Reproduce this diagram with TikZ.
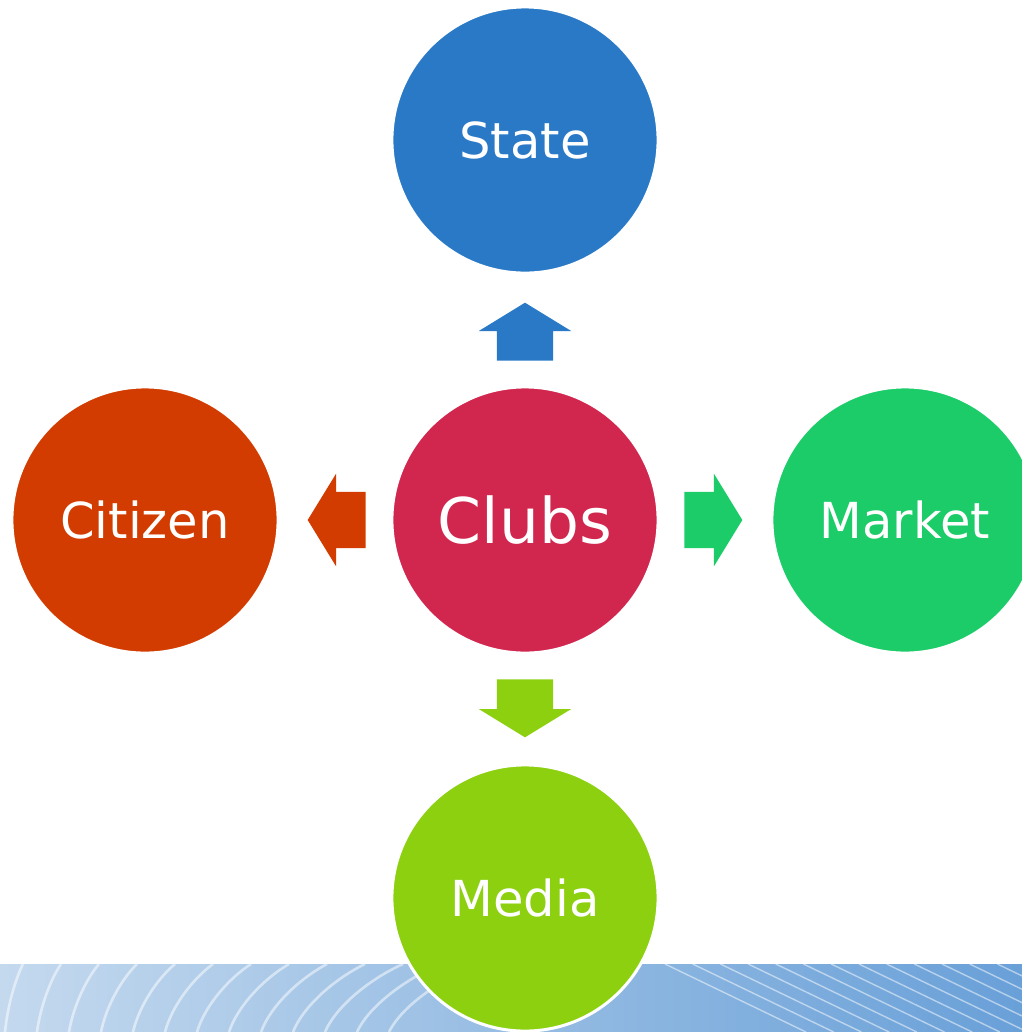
\documentclass[tikz,border=0pt]{standalone}
\usepackage{fontspec}
\setmainfont{DejaVu Sans}
\usepackage{tikz}
\usetikzlibrary{shapes.arrows,calc}
\usepackage{xcolor}
\definecolor{stateblue}{HTML}{2979C7}
\definecolor{clubred}{HTML}{D1274F}
\definecolor{citizenred}{HTML}{D33C00}
\definecolor{marketgreen}{HTML}{1BCC69}
\definecolor{medialime}{HTML}{8CD00F}
\definecolor{bandleft}{HTML}{C4D9EE}
\definecolor{bandmid}{HTML}{8DB5E0}
\definecolor{bandright}{HTML}{69A0D8}

\tikzset{
  bubble/.style={circle,minimum size=2.66cm,inner sep=0pt,draw=white,
    line width=0.03cm,text=white,font=\fontsize{14.1pt}{17pt}\selectfont},
  blockarrow/.style={single arrow,single arrow head extend=0.18cm,
    single arrow tip angle=117,minimum height=0.58cm,minimum width=0pt,
    inner xsep=0pt,inner ysep=0.275cm,draw=none,anchor=tail},
  uparrow/.style={blockarrow,inner xsep=0.275cm,inner ysep=0pt},
  bandline/.style={white,opacity=0.5}
}

\begin{document}
\begin{tikzpicture}[x=0.01cm,y=-0.01cm]
  \useasboundingbox (0,0) rectangle (1022,1032);
  % striped band along the bottom
  \shade[left color=bandleft,middle color=bandmid,right color=bandright]
    (0,964) rectangle (1022,1032);
  \begin{scope}
    \clip (0,964) rectangle (1022,1032);
    \foreach \i in {0,...,12} {
      \pgfmathsetmacro{\t}{23+38*\i}
      \pgfmathsetmacro{\d}{18+6*\i}
      \draw[bandline,line width=0.75pt]
        ({\t-\d},1032) .. controls ({\t-0.85*\d},1005) and ({\t-0.4*\d},978) .. (\t,964);
    }
    \foreach \i in {0,...,13}
      \draw[bandline,line width=0.4pt] ({665+27.7*\i},964) -- ({806+27.7*\i},1032);
  \end{scope}

  \node[bubble,fill=stateblue] (state) at (525,140) {State};
  \node[bubble,fill=clubred,font=\fontsize{17.9pt}{21pt}\selectfont] (clubs) at (525,520) {Clubs};
  \node[bubble,fill=citizenred] (citizen) at (145,520) {Citizen};
  \node[bubble,fill=marketgreen] (market) at (905,520) {Market};
  \node[bubble,fill=medialime] (media) at (525,898) {Media};

  % block arrows out of the centre
  \node[uparrow,fill=stateblue,shape border rotate=90] (toState)
    at ($(clubs.north)+(0,-24)$) {};
  \node[blockarrow,fill=citizenred,shape border rotate=180] (toCitizen)
    at ($(clubs.west)+(-24,0)$) {};
  \node[blockarrow,fill=marketgreen] (toMarket)
    at ($(clubs.east)+(24,0)$) {};
  \node[uparrow,fill=medialime,shape border rotate=270] (toMedia)
    at ($(clubs.south)+(0,24)$) {};
\end{tikzpicture}
\end{document}
